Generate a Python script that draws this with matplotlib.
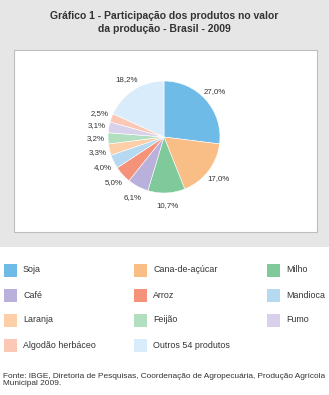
import matplotlib
matplotlib.use("Agg")
import matplotlib.pyplot as plt
from matplotlib.patches import Rectangle

plt.rcParams['font.family'] = ['Liberation Sans', 'DejaVu Sans']

# data
products = ["Soja", "Cana-de-açúcar", "Milho", "Café", "Arroz", "Mandioca",
            "Laranja", "Feijão", "Fumo", "Algodão herbáceo", "Outros 54 produtos"]
shares = [27.0, 17.0, 10.7, 6.1, 5.0, 4.0, 3.3, 3.2, 3.1, 2.5, 18.2]
colours = ["#6fbbe8", "#f9be86", "#80c99b", "#b9b0dc", "#f5937a", "#b5d9f0",
           "#fdcfa8", "#b3dfc1", "#d9d1eb", "#fbc8b6", "#d9ecfb"]

title = "Gráfico 1 - Participação dos produtos no valor\nda produção - Brasil - 2009"
source = ("Fonte: IBGE, Diretoria de Pesquisas, Coordenação de Agropecuária, Produção Agrícola\n"
          "Municipal 2009.")

W, H = 329, 395
fig = plt.figure(figsize=(W / 100, H / 100), dpi=100)
fig.patch.set_facecolor("white")

def fx(px):
    return px / W

def fy(py):
    return 1 - py / H

# grey box and white panel
fig.patches.append(Rectangle((0, fy(247)), 1, 247 / H, transform=fig.transFigure,
                             facecolor="#e6e6e6", edgecolor="none", zorder=0))
fig.patches.append(Rectangle((fx(14), fy(232)), 303 / W, 182 / H, transform=fig.transFigure,
                             facecolor="white", edgecolor="#bdbdbd", linewidth=0.8, zorder=1))

fig.text(fx(164), fy(22.5), title, ha="center", va="center", fontsize=7.5,
         fontweight="bold", color="#333333", linespacing=1.35)

# pie
cx, cy, r = 164, 137, 56
ax = fig.add_axes([fx(cx - r), fy(cy + r), 2 * r / W, 2 * r / H])
labels = [("%.1f%%" % v).replace(".", ",") for v in shares]
wedges, texts = ax.pie(shares, colors=colours, startangle=90, counterclock=False,
                       labels=labels, labeldistance=1.22,
                       wedgeprops=dict(edgecolor="white", linewidth=0.4),
                       textprops=dict(fontsize=5.7, color="#333333"))
for t in texts:
    t.set_ha("center")
    t.set_va("center")
ax.set_xlim(-1, 1)
ax.set_ylim(-1, 1)
ax.set_zorder(2)

# legend, row by row
col_x = [4, 134, 267]
row_y = [270, 295, 320, 345]
box = 13
for i, (name, c) in enumerate(zip(products, colours)):
    x = col_x[i % 3]
    y = row_y[i // 3]
    fig.patches.append(Rectangle((fx(x), fy(y + box / 2)), box / W, box / H,
                                 transform=fig.transFigure, facecolor=c,
                                 edgecolor="none"))
    fig.text(fx(x + 19), fy(y), name, ha="left", va="center", fontsize=6.4,
             color="#333333")

fig.text(fx(3), fy(380), source, ha="left", va="center", fontsize=5.95,
         color="#333333", linespacing=1.1)

fig.savefig("out.png", dpi=100)
